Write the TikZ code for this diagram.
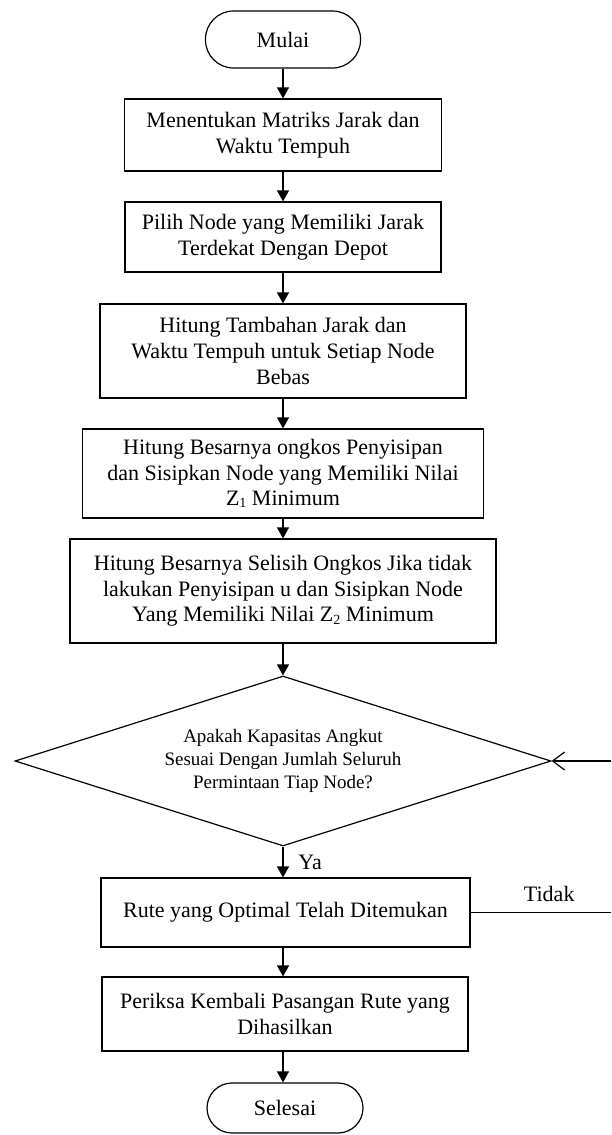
\documentclass[tikz,border=0pt]{standalone}
\usepackage{fontspec}
\setmainfont{Liberation Serif}
\usetikzlibrary{arrows.meta,shapes.geometric}
\begin{document}
\begin{tikzpicture}[x=0.5pt,y=-0.5pt,
  box/.style={draw, line width=0.6pt, align=center, inner sep=2pt, font=\fontsize{11}{12.8}\selectfont},
  term/.style={draw, line width=0.6pt, rounded corners=14pt, align=center, font=\fontsize{11}{12.8}\selectfont},
  arr/.style={line width=0.6pt, -{Triangle[length=5.5pt,width=6pt]}},
  lbl/.style={font=\fontsize{11}{12.8}\selectfont, inner sep=0pt}]
\useasboundingbox (0,0) rectangle (611,1135);
\node[term, minimum width=77.5pt, minimum height=28.5pt] (mulai) at (283,39.5) {Mulai};
\node[box, minimum width=158.5pt, minimum height=36pt] (b1) at (283,135) {Menentukan Matriks Jarak dan\\Waktu Tempuh};
\node[box, minimum width=158pt, minimum height=35pt] (b2) at (283,237) {Pilih Node yang Memiliki Jarak\\Terdekat Dengan Depot};
\node[box, minimum width=183pt, minimum height=47pt] (b3) at (283,351) {Hitung Tambahan Jarak dan\\Waktu Tempuh untuk Setiap Node\\Bebas};
\node[box, minimum width=200.5pt, minimum height=44.5pt] (b4) at (283,473.5) {Hitung Besarnya ongkos Penyisipan\\dan Sisipkan Node yang Memiliki Nilai\\Z{\fontsize{7}{8}\selectfont\raisebox{-0.35ex}{1}} Minimum};
\node[box, minimum width=213pt, minimum height=52pt] (b5) at (283,591) {Hitung Besarnya Selisih Ongkos Jika tidak\\lakukan Penyisipan u dan Sisipkan Node\\Yang Memiliki Nilai Z{\fontsize{7}{8}\selectfont\raisebox{-0.35ex}{2}} Minimum};
\node[draw, diamond, aspect=3.15, line width=0.6pt, inner sep=0pt, minimum width=268pt, minimum height=85pt, align=center, font=\fontsize{9.5}{11.3}\selectfont] (dec) at (283,761) {Apakah Kapasitas Angkut\\Sesuai Dengan Jumlah Seluruh\\Permintaan Tiap Node?};
\node[box, minimum width=184.5pt, minimum height=34.5pt] (b6) at (285.5,912.5) {Rute yang Optimal Telah Ditemukan};
\node[box, minimum width=183pt, minimum height=37pt] (b7) at (285,1014) {Periksa Kembali Pasangan Rute yang\\Dihasilkan};
\node[term, minimum width=78pt, minimum height=25pt, rounded corners=12.5pt] (selesai) at (285,1108) {Selesai};
\draw[arr] (mulai.south) -- (b1.north -| mulai.south);
\draw[arr] (b1.south -| mulai.south) -- (b2.north);
\draw[arr] (b2) -- (b3);
\draw[arr] (b3) -- (b4);
\draw[arr] (b4) -- (b5);
\draw[arr] (b5) -- (dec);
\draw[arr] (dec.south) -- (b6.north -| dec.south);
\node[lbl, anchor=west] (ya) at (298,862) {Ya};
\draw[arr] (b6.south -| dec.south) -- (b7.north -| dec.south);
\draw[arr] (b7.south -| dec.south) -- (selesai.north -| dec.south);
\coordinate (e1) at (611,912.5);
\coordinate (e2) at (611,761);
\draw[line width=0.6pt] (b6.east) -- (e1) node[lbl, pos=0.56, above=5pt] (tidak) {Tidak};
\draw[line width=0.6pt, -{Straight Barb[length=6pt,width=9pt]}] (e2) -- (dec.east);
\end{tikzpicture}
\end{document}
